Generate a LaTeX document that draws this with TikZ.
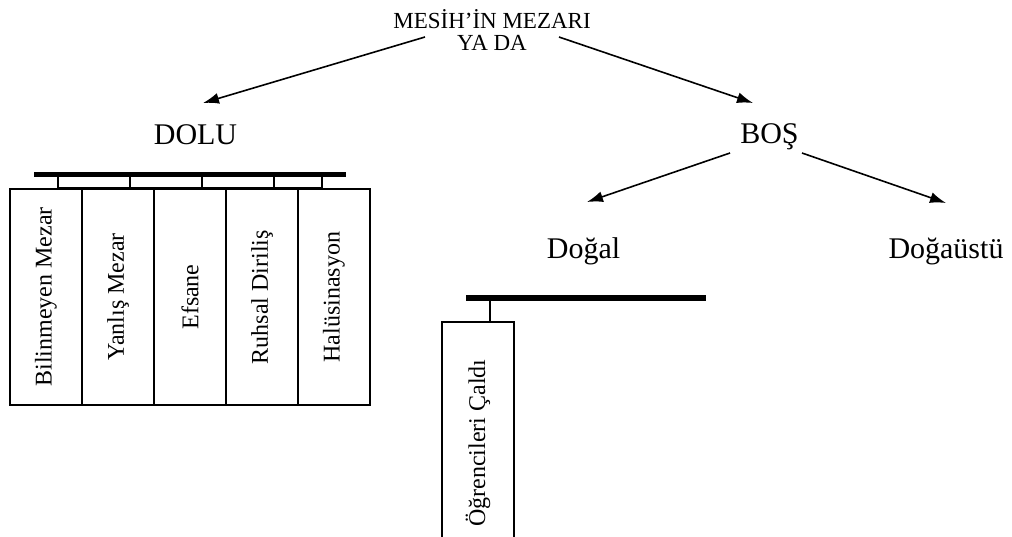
\documentclass[tikz,border=0pt]{standalone}
\usepackage{fontspec}
\setmainfont{Liberation Serif}
\usetikzlibrary{arrows.meta}

\tikzset{
  kolon/.style={shape=rectangle,draw,line width=1.2pt,rotate=90,minimum width=216pt,minimum height=72pt,inner sep=0pt,font=\fontsize{24}{26}\selectfont},
  baslik/.style={inner sep=0pt,font=\fontsize{30}{34}\selectfont},
  ok/.style={line width=1.6pt,-{Latex[length=16pt,width=11pt]}}
}

\begin{document}
\begin{tikzpicture}[x=1pt,y=-1pt]
\clip (0,0) rectangle (1012,536);
%[inner sep=0pt]
\path (492,50) node (mezar) [anchor=base,align=center,inner sep=0pt,font=\fontsize{23}{22}\selectfont] {MESİH’İN MEZARI\\YA DA};
\path (195.5,144) node (dolu) [baslik,anchor=base] {DOLU};
\path (769.5,143) node (bos) [baslik,anchor=base] {BOŞ};
\path (583.5,258) node (dogal) [baslik,anchor=base] {Doğal};
\path (946,258) node (dogaustu) [baslik,anchor=base] {Doğaüstü};

\coordinate (m1) at (425,37);
\coordinate (m2) at (559,37);
\coordinate (d1) at (203,103);
\coordinate (b1) at (753,103);
\coordinate (b2) at (730,153);
\coordinate (b3) at (802,153);
\coordinate (g1) at (587,202);
\coordinate (u1) at (946,203);

\draw [ok] (m1) to (d1);
\draw [ok] (m2) to (b1);
\draw [ok] (b2) to (g1);
\draw [ok] (b3) to (u1);

% dolu
\path (46,297) node (bilinmeyen) [kolon] {Bilinmeyen Mezar};
\path (118,297) node (yanlis) [kolon] {Yanlış Mezar};
\path (190,297) node (efsane) [kolon] {Efsane};
\path (262,297) node (ruhsal) [kolon] {Ruhsal Diriliş};
\path (334,297) node (halusin) [kolon] {Halüsinasyon};

\draw [line width=5.5pt] (34,174.5) to (346,174.5);
\draw [line width=1.2pt] (58,187.5) to (322,187.5);
\draw [line width=1.2pt] (58,177) to (58,189);
\draw [line width=1.2pt] (130,177) to (130,189);
\draw [line width=1.2pt] (202,177) to (202,189);
\draw [line width=1.2pt] (274,177) to (274,189);
\draw [line width=1.2pt] (322,177) to (322,189);

% bos
\path (478,443) node (ogrenci) [kolon,minimum width=242pt] {Öğrencileri Çaldı};
\draw [line width=6pt] (466,298) to (706,298);
\draw [line width=1.2pt] (490,301) to (ogrenci.east -| 490,0);
\end{tikzpicture}
\end{document}
